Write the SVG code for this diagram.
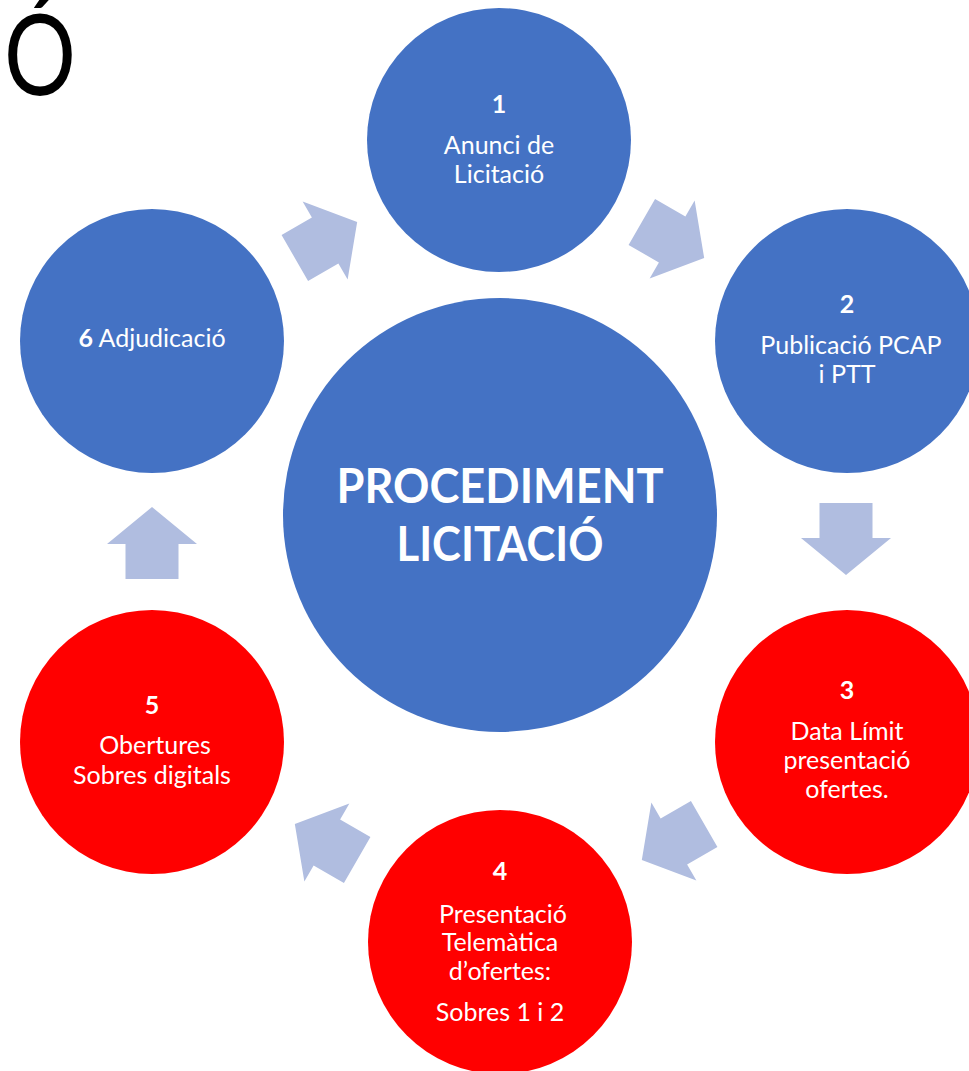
<svg xmlns="http://www.w3.org/2000/svg" width="969" height="1071" viewBox="0 0 969 1071">
<style>
.blue{fill:#4472C4}
.red{fill:#FF0000}
.arrow{fill:#B0BDE0}
.t{font-family:Lato,"Liberation Sans",sans-serif;font-size:25px;fill:#FFFFFF;text-anchor:middle}
.b{font-weight:bold}
.big{font-family:Lato,"Liberation Sans",sans-serif;font-size:48px;font-weight:bold;fill:#FFFFFF;text-anchor:middle}
</style>
<defs>
<polygon id="arr" points="-36,-26.5 -1,-26.5 -1,-45 36,0 -1,45 -1,26.5 -36,26.5"/>
</defs>
<rect width="969" height="1071" fill="#FFFFFF"/>
<text x="4" y="95" font-family="Lato,'Liberation Sans',sans-serif" font-size="112" fill="#000000" textLength="72" lengthAdjust="spacingAndGlyphs">Ó</text>
<g id="connectors">
<use href="#arr" class="arrow" transform="translate(673,240) rotate(30)"/>
<use href="#arr" class="arrow" transform="translate(846,539) rotate(90)"/>
<use href="#arr" class="arrow" transform="translate(673,842) rotate(150)"/>
<use href="#arr" class="arrow" transform="translate(326,842) rotate(210)"/>
<use href="#arr" class="arrow" transform="translate(152,543) rotate(-90)"/>
<use href="#arr" class="arrow" transform="translate(326,240) rotate(-30)"/>
</g>
<g id="center">
<circle class="blue" cx="500" cy="515" r="217"/>
<text class="big" x="500" y="503" textLength="327" lengthAdjust="spacingAndGlyphs">PROCEDIMENT</text>
<text class="big" x="500" y="561" textLength="207" lengthAdjust="spacingAndGlyphs">LICITACIÓ</text>
</g>
<g id="node1">
<circle class="blue" cx="499" cy="140" r="132"/>
<text class="t b" x="499" y="113">1</text>
<text class="t" x="499" y="154">Anunci de</text>
<text class="t" x="499" y="183">Licitació</text>
</g>
<g id="node2">
<circle class="blue" cx="847" cy="341" r="132"/>
<text class="t b" x="847" y="313">2</text>
<text class="t" x="851" y="354">Publicació PCAP</text>
<text class="t" x="847" y="383">i PTT</text>
</g>
<g id="node3">
<circle class="red" cx="847" cy="742" r="132"/>
<text class="t b" x="847" y="699">3</text>
<text class="t" x="847" y="740">Data Límit</text>
<text class="t" x="847" y="769">presentació</text>
<text class="t" x="847" y="798">ofertes.</text>
</g>
<g id="node4">
<circle class="red" cx="500" cy="942" r="132"/>
<text class="t b" x="500" y="880">4</text>
<text class="t" x="503" y="923">Presentació</text>
<text class="t" x="500" y="951">Telemàtica</text>
<text class="t" x="500" y="980">d’ofertes:</text>
<text class="t" x="500" y="1021">Sobres 1 i 2</text>
</g>
<g id="node5">
<circle class="red" cx="152" cy="742" r="132"/>
<text class="t b" x="152" y="714">5</text>
<text class="t" x="155" y="754">Obertures</text>
<text class="t" x="152" y="784">Sobres digitals</text>
</g>
<g id="node6">
<circle class="blue" cx="152" cy="341" r="132"/>
<text class="t" x="152" y="347"><tspan class="b">6</tspan> Adjudicació</text>
</g>
</svg>
